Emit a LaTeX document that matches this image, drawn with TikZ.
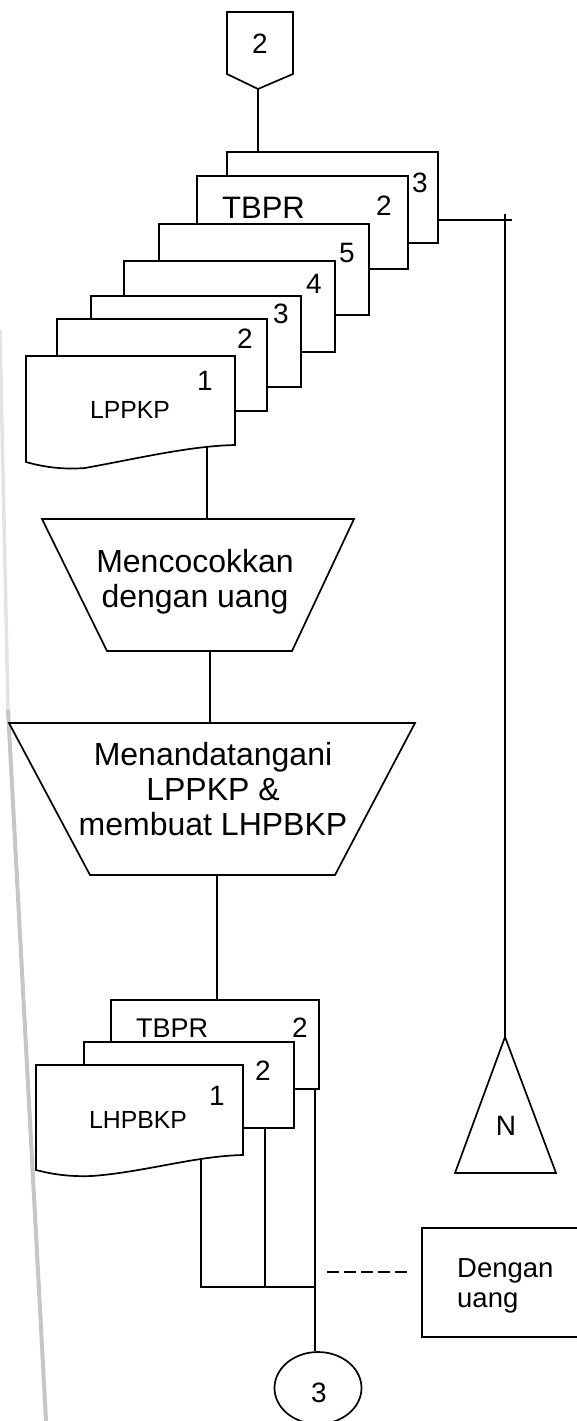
\documentclass[tikz,border=0pt]{standalone}
\usepackage{fontspec}
\setmainfont{Liberation Sans}
\usetikzlibrary{shapes.geometric}
\pgfdeclarelayer{bg}
\pgfsetlayers{bg,main}
\begin{document}
\begin{tikzpicture}[x=1pt,y=-1pt,
  ln/.style={line width=1.7pt, line join=miter},
  paper/.style={draw, fill=white, line width=1.7pt, rectangle, inner sep=0pt, outer sep=0pt, anchor=north west},
  num/.style={font=\fontsize{28}{30}\selectfont, anchor=base, inner sep=0pt},
  bigtag/.style={font=\fontsize{31}{34}\selectfont, anchor=base west, inner sep=0pt},
  midtag/.style={font=\fontsize{27}{30}\selectfont, anchor=base west, inner sep=0pt},
  doctag/.style={font=\fontsize{24.8}{27}\selectfont, anchor=base, inner sep=0pt},
  proc/.style={font=\fontsize{32}{35}\selectfont, anchor=base, inner sep=0pt},
  note/.style={font=\fontsize{27.5}{30}\selectfont, anchor=base west, inner sep=0pt},
]
\useasboundingbox (0,0) rectangle (576,1421);

% gutter shadow along the left edge
\draw[gray!22, line width=3.5pt] (0,330) -- (8,710);
\draw[gray!45, line width=4pt] (8,710) -- (46,1421);

% off-page connector 2
\draw[ln, fill=white] (227,12) -- (293,12) -- (293,74) -- (258,89) -- (227,74) -- cycle;
\coordinate (c2tip) at (258,89);
\node[num] (c2) at (260,53) {2};

% TBPR copies 3 and 2
\node[paper, minimum width=211pt, minimum height=91pt] (dA) at (227,152) {};
\node[num] (dAn) at (420,192) {3};
\node[paper, minimum width=211pt, minimum height=93pt] (dB) at (197,176) {};
\node[bigtag] (dBt) at (222,218) {TBPR};
\node[num] (dBn) at (384,215) {2};

% LPPKP copies 5 .. 1
\node[paper, minimum width=210pt, minimum height=91pt] (dC) at (159,224) {};
\node[num] (dCn) at (347,262) {5};
\node[paper, minimum width=211pt, minimum height=91pt] (dD) at (124,261) {};
\node[num] (dDn) at (314,293) {4};
\node[paper, minimum width=210pt, minimum height=91pt] (dE) at (91,296) {};
\node[num] (dEn) at (281,323) {3};
\node[paper, minimum width=210pt, minimum height=92pt] (dF) at (57,319) {};
\node[num] (dFn) at (245,348) {2};
\draw[ln, fill=white] (26,356) -- (235,356) -- (235,445)
  .. controls (190,446) and (140,458) .. (85,468)
  .. controls (60,470) and (40,466) .. (26,462) -- cycle;
\coordinate (gOut) at (207,447);
\node[num] (dGn) at (205,390) {1};
\node[doctag] (dGt) at (130,418) {LPPKP};

% process: Mencocokkan dengan uang
\draw[ln, fill=white] (42,519) -- (354,519) -- (292,651) -- (107,651) -- cycle;
\coordinate (p1in) at (207,519);
\coordinate (p1out) at (210,651);
\node[proc] (p1a) at (195,572) {Mencocokkan};
\node[proc] (p1b) at (195,607) {dengan uang};

% process: Menandatangani LPPKP & membuat LHPBKP
\draw[ln, fill=white] (9,723) -- (415,723) -- (335,875) -- (90,875) -- cycle;
\coordinate (p2in) at (210,723);
\coordinate (p2out) at (217,875);
\node[proc] (p2a) at (213,765) {Menandatangani};
\node[proc] (p2b) at (213,800) {LPPKP \&};
\node[proc] (p2c) at (213,835) {membuat LHPBKP};

% TBPR copy 2 and LHPBKP copies 2, 1
\node[paper, minimum width=208pt, minimum height=89pt] (dH) at (111,1000) {};
\node[midtag] (dHt) at (136,1037) {TBPR};
\node[num] (dHn) at (300,1037) {2};
\node[paper, minimum width=210pt, minimum height=86pt] (dI) at (84,1042) {};
\node[num] (dIn) at (263,1080) {2};
\draw[ln, fill=white] (36,1065) -- (243,1065) -- (243,1155)
  .. controls (195,1156) and (145,1172) .. (92,1176)
  .. controls (65,1177) and (48,1173) .. (36,1170) -- cycle;
\coordinate (jOut) at (201,1158);
\node[num] (dJn) at (217,1105) {1};
\node[doctag] (dJt) at (138,1128) {LHPBKP};

% file N
\draw[ln, fill=white] (505,1037) -- (556,1173) -- (455,1173) -- cycle;
\coordinate (nTop) at (505,1037);
\node[num] (nN) at (506,1135) {N};

% annotation box
\node[paper, minimum width=200pt, minimum height=109pt] (box) at (422,1228) {};
\node[note] (bx1) at (457,1277) {Dengan};
\node[note] (bx2) at (457,1307) {uang};

% on-page connector 3
\node[draw, ln, ellipse, minimum width=87pt, minimum height=72pt, fill=white] (c3) at (318,1388) {};
\node[num] (c3n) at (319,1402) {3};

% flow lines
\coordinate (aR) at (438,220);
\coordinate (aX) at (512,220);
\coordinate (vTop) at (505,214);
\coordinate (jn) at (315,1287);
\coordinate (dashA) at (327,1272);
\coordinate (dashB) at (407,1272);
\begin{pgfonlayer}{bg}
  \draw[ln] (c2tip) -- (c2tip |- dA.north);
  \draw[ln] (aR) -- (aX);
  \draw[ln] (vTop) -- (nTop);
  \draw[ln] (gOut) -- (p1in);
  \draw[ln] (p1out) -- (p2in);
  \draw[ln] (p2out) -- (p2out |- dH.north);
  \draw[ln] (jOut) -- (jOut |- jn) -- (jn);
  \draw[ln] (dI.south -| 265,0) -- (265,1287);
  \draw[ln] (dH.south -| jn) -- (c3.north -| jn);
\end{pgfonlayer}
\draw[line width=1.5pt, dash pattern=on 12pt off 5pt] (dashA) -- (dashB);
\end{tikzpicture}
\end{document}
